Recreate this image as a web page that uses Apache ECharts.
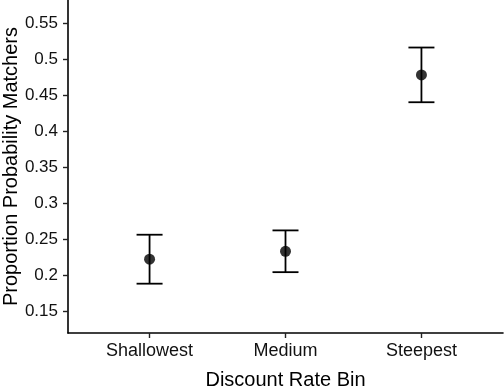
<!DOCTYPE html>
<html><head><meta charset="utf-8">
<script src="https://cdn.jsdelivr.net/npm/echarts@6/dist/echarts.min.js"></script>
<style>html,body{margin:0;padding:0;background:#fff}#c{width:504px;height:387px}</style>
</head><body><div id="c"></div>
<script>
const categories = ['Shallowest', 'Medium', 'Steepest'];
const means = [0.222, 0.233, 0.478];
const lower = [0.188, 0.204, 0.440];
const upper = [0.256, 0.262, 0.516];
const yTicks = [0.15, 0.2, 0.25, 0.3, 0.35, 0.4, 0.45, 0.5, 0.55];

const chart = echarts.init(document.getElementById('c'), null, {renderer: 'canvas'});
const font = 'Liberation Sans, Arial, Helvetica, sans-serif';
chart.setOption({
  animation: false,
  grid: {left: 68, right: 1, top: 0, bottom: 54, containLabel: false, outerBoundsMode: 'none'},
  xAxis: {
    type: 'value', min: 0.4, max: 3.6,
    name: 'Discount Rate Bin', nameLocation: 'middle', nameGap: 37, nameMoveOverlap: false,
    nameTextStyle: {fontFamily: font, fontSize: 20, color: '#000'},
    axisLine: {show: true, lineStyle: {color: '#000', width: 1.6}},
    axisTick: {show: true, length: 5, lineStyle: {color: '#222', width: 1.4}, customValues: [1, 2, 3]},
    axisLabel: {customValues: [1, 2, 3], fontFamily: font, fontSize: 18, color: '#111', margin: 9,
      formatter: v => categories[Math.round(v) - 1] || ''},
    splitLine: {show: false}
  },
  yAxis: {
    type: 'value', min: 0.1195, max: 0.582,
    name: 'Proportion Probability Matchers', nameLocation: 'middle', nameGap: 47, nameMoveOverlap: false,
    nameTextStyle: {fontFamily: font, fontSize: 20, color: '#000'},
    axisLine: {show: true, lineStyle: {color: '#000', width: 1.6}},
    axisTick: {show: true, length: 5, lineStyle: {color: '#222', width: 1.4}, customValues: yTicks},
    axisLabel: {customValues: yTicks, fontFamily: font, fontSize: 17, color: '#111', margin: 10,
      formatter: v => String(+v.toFixed(2))},
    splitLine: {show: false}
  },
  series: [
    {
      type: 'custom',
      data: categories.map((c, i) => [i + 1, lower[i], upper[i]]),
      renderItem: function (params, api) {
        const x = api.value(0);
        const lo = api.coord([x, api.value(1)]);
        const hi = api.coord([x, api.value(2)]);
        const hw = 13;
        const style = {stroke: '#000', lineWidth: 1.8};
        return {type: 'group', children: [
          {type: 'line', shape: {x1: lo[0], y1: lo[1], x2: hi[0], y2: hi[1]}, style},
          {type: 'line', shape: {x1: lo[0] - hw, y1: lo[1], x2: lo[0] + hw, y2: lo[1]}, style},
          {type: 'line', shape: {x1: hi[0] - hw, y1: hi[1], x2: hi[0] + hw, y2: hi[1]}, style}
        ]};
      },
      z: 2
    },
    {
      type: 'scatter',
      data: categories.map((c, i) => [i + 1, means[i]]),
      symbol: 'circle', symbolSize: 11,
      itemStyle: {color: '#000'},
      z: 3
    }
  ]
});
</script></body></html>
